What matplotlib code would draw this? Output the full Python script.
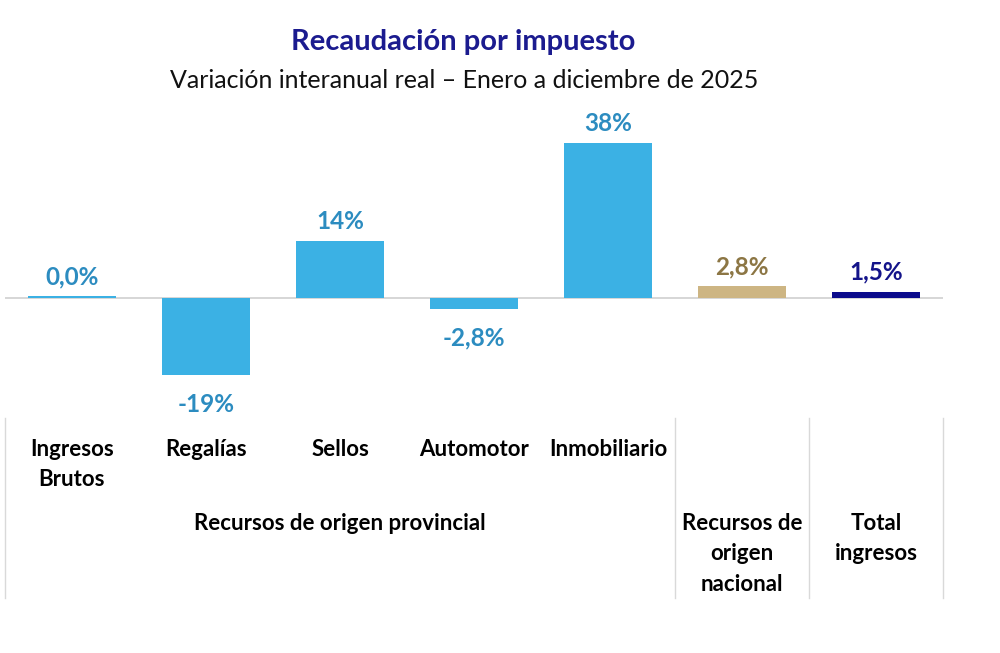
import matplotlib.pyplot as plt
from matplotlib.transforms import blended_transform_factory

categorias = ["Ingresos\nBrutos", "Regalías", "Sellos", "Automotor", "Inmobiliario",
              "Recursos de\norigen\nnacional", "Total\ningresos"]
valores = [0.0, -19, 14, -2.8, 38, 2.8, 1.5]
etiquetas = ["0,0%", "-19%", "14%", "-2,8%", "38%", "2,8%", "1,5%"]
grupo_provincial = "Recursos de origen provincial"

color_barra = ["#3BB1E4"] * 5 + ["#CDB583", "#0B0B8C"]
color_texto = ["#2C8CC0"] * 5 + ["#8C7644", "#14148A"]

plt.rcParams['font.family'] = ['Lato', 'DejaVu Sans']

fig = plt.figure(figsize=(10, 6.53), dpi=100)
ax = fig.add_axes([0.005, 0.36, 0.938, 0.4717])

x = list(range(len(valores)))
# the zero bar is drawn as a thin line like in the original
alturas = [v if v != 0 else 0.4 for v in valores]
ax.bar(x, alturas, width=0.66, color=color_barra, zorder=2)
ax.axhline(0, color="#D0D0D0", lw=1.2, zorder=1)

for xi, v, t, c in zip(x, valores, etiquetas, color_texto):
    if v >= 0:
        ax.text(xi, max(v, 0.4) + 2.0, t, ha="center", va="bottom", color=c,
                fontsize=17.5, fontweight="bold")
    else:
        ax.text(xi, v - 4.3, t, ha="center", va="top", color=c,
                fontsize=17.5, fontweight="bold")

ax.set_xlim(-0.5, 6.5)
ax.set_ylim(-29.5, 46.2)
ax.axis("off")

trans = blended_transform_factory(ax.transData, fig.transFigure)
for xs in [-0.5, 4.5, 5.5, 6.5]:
    ax.plot([xs, xs], [1 - 418 / 653, 1 - 598 / 653], color="#D9D9D9", lw=1,
            transform=trans, clip_on=False)

# category labels
for xi, cat in enumerate(categorias[:5]):
    ax.text(xi, 1 - 439 / 653, cat, transform=trans, ha="center", va="top",
            fontsize=16, fontweight="bold", linespacing=1.55)
ax.text(2, 1 - 513 / 653, grupo_provincial, transform=trans, ha="center", va="top",
        fontsize=16, fontweight="bold")
for xi in [5, 6]:
    ax.text(xi, 1 - 513 / 653, categorias[xi], transform=trans, ha="center", va="top",
            fontsize=16, fontweight="bold", linespacing=1.55)

fig.text(0.463, 1 - 42 / 653, "Recaudación por impuesto", ha="center", va="center",
         fontsize=21, fontweight="bold", color="#1B1B8F")
fig.text(0.464, 1 - 80 / 653, "Variación interanual real – Enero a diciembre de 2025",
         ha="center", va="center", fontsize=18, color="#111111")

fig.savefig("out.png", dpi=100)
